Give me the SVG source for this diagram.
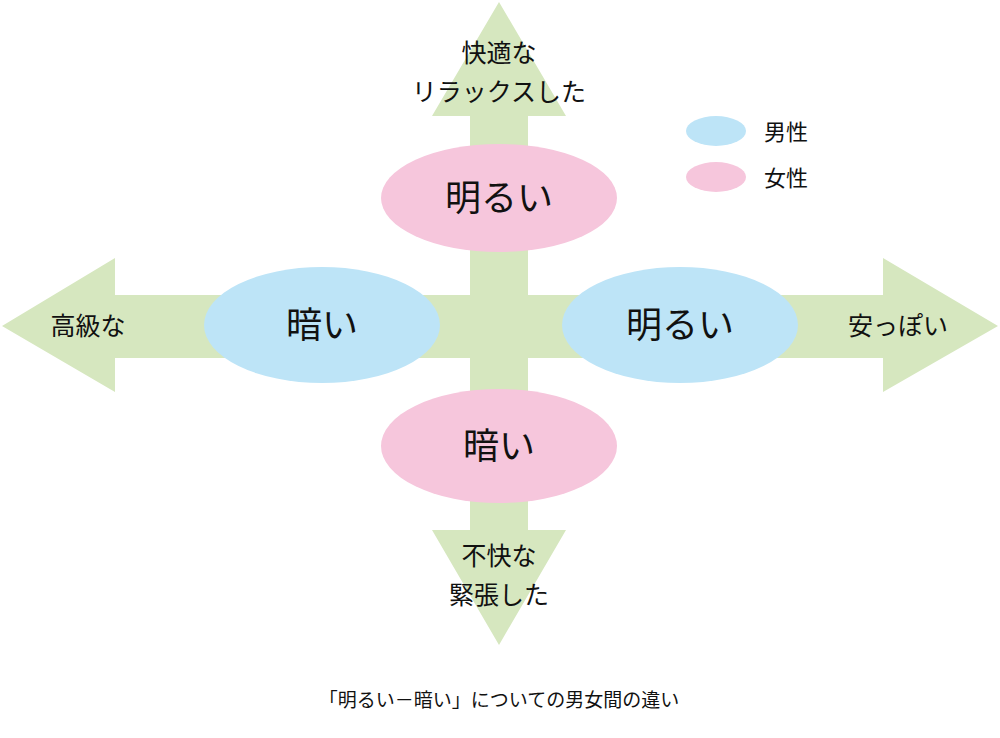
<svg xmlns="http://www.w3.org/2000/svg" width="1000" height="738" viewBox="0 0 1000 738">
<style>
text{font-family:"Noto Sans CJK JP","Noto Sans",sans-serif;fill:#111;text-anchor:middle}
.arr{fill:#d6e7bf}
.m{fill:#bde4f7}
.f{fill:#f6c6dc}
.big{font-size:36px}
.lbl{font-size:25px}
</style>
<rect width="1000" height="738" fill="#fff"/>
<g id="connectors">
<polygon class="arr" points="499,2 566,116 528,116 528,295 883,295 883,258 998,326 883,392 883,358 528,358 528,530 566,530 499,645 432,530 470,530 470,358 115,358 115,392 2,326 115,258 115,295 470,295 470,116 432,116"/>
</g>
<g id="top"><ellipse class="f" cx="499" cy="198" rx="118" ry="54"/><text class="big" x="499" y="211">明るい</text></g>
<g id="bottom"><ellipse class="f" cx="499" cy="446" rx="118" ry="57"/><text class="big" x="499" y="459">暗い</text></g>
<g id="left"><ellipse class="m" cx="322" cy="325" rx="118" ry="58"/><text class="big" x="322" y="338">暗い</text></g>
<g id="right"><ellipse class="m" cx="680" cy="325" rx="118" ry="58"/><text class="big" x="680" y="338">明るい</text></g>
<g id="labels">
<text class="lbl" x="499" y="62">快適な</text>
<text class="lbl" x="499" y="101">リラックスした</text>
<text class="lbl" x="88" y="335">高級な</text>
<text class="lbl" x="898" y="335">安っぽい</text>
<text class="lbl" x="499" y="565">不快な</text>
<text class="lbl" x="499" y="604">緊張した</text>
<text x="499" y="707" font-size="19">「明るい－暗い」についての男女間の違い</text>
</g>
<g id="legend">
<ellipse class="m" cx="716" cy="131" rx="30" ry="15"/>
<ellipse class="f" cx="716" cy="177" rx="30" ry="15"/>
<text x="786" y="140" font-size="22">男性</text>
<text x="786" y="186" font-size="22">女性</text>
</g>
</svg>
